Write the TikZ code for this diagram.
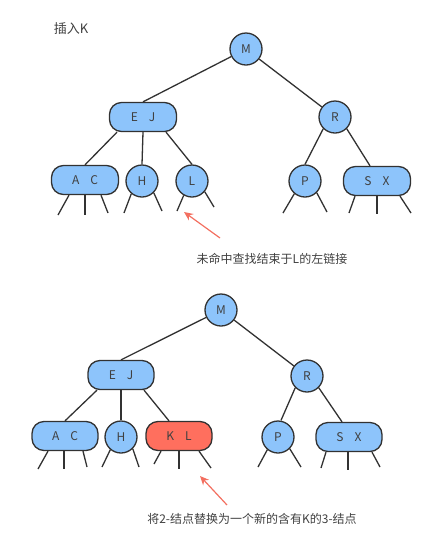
\documentclass[tikz,border=0pt]{standalone}
\usepackage{fontspec}
\setmainfont{Noto Sans CJK SC}
\usepackage{tikz}
\usetikzlibrary{arrows.meta}

\definecolor{keyblue}{RGB}{141,196,251}
\definecolor{keyred}{RGB}{255,111,94}
\definecolor{edgegray}{RGB}{50,50,50}
\definecolor{arrowred}{RGB}{243,111,96}

\begin{document}
\begin{tikzpicture}[x=1pt,y=-1pt,
    two/.style={circle,draw=edgegray,line width=1.3pt,fill=keyblue,minimum size=32pt,inner sep=0pt,
      text=black!75,font=\fontsize{12}{12}\selectfont},
    three/.style={rectangle,rounded corners=12pt,draw=edgegray,line width=1.3pt,fill=keyblue,
      minimum width=67pt,minimum height=29pt,inner sep=0pt,text=black!75,font=\fontsize{12}{12}\selectfont},
    link/.style={draw=edgegray,line width=1.3pt},
    hint/.style={draw=arrowred,line width=1.2pt,-{Stealth[length=9pt,width=8pt]}},
    note/.style={text=black!75,font=\fontsize{12}{12}\selectfont}]
\useasboundingbox (0,0) rectangle (437,547);

% before inserting K
\node[note,font=\fontsize{13}{13}\selectfont] (title) at (71,29) {插入K};
\node[two] (m1) at (246,49) {M};
\node[three] (ej1) at (143,117) {E\hspace{11pt}J};
\node[two] (r1) at (335,117) {R};
\node[three] (ac1) at (85,180) {A\hspace{11pt}C};
\node[two] (h1) at (142,181) {H};
\node[two] (l1) at (192,181) {L};
\node[two] (p1) at (305,181) {P};
\node[three] (sx1) at (377,181) {S\hspace{11pt}X};
\draw[link] (m1) -- (ej1.north);
\draw[link] (m1) -- (r1);
\draw[link] ([xshift=-26pt]ej1.south) -- (ac1.north);
\draw[link] (ej1.south) -- (h1.north);
\draw[link] ([xshift=23pt]ej1.south) -- (l1.north);
\draw[link] (r1.-135) -- (p1.north);
\draw[link] (r1.-45) -- ([xshift=-7pt]sx1.north);
\coordinate (ac1a) at (58,215);
\coordinate (ac1b) at (85,215);
\coordinate (ac1c) at (108,213);
\coordinate (h1a) at (124,213);
\coordinate (h1b) at (162,211);
\coordinate (l1a) at (177,211);
\coordinate (l1b) at (214,207);
\coordinate (p1a) at (283,213);
\coordinate (p1b) at (327,212);
\coordinate (sx1a) at (349,213);
\coordinate (sx1b) at (377,214);
\coordinate (sx1c) at (411,213);
\draw[link] ([xshift=-16pt]ac1.south) -- (ac1a);
\draw[link] (ac1.south) -- (ac1b);
\draw[link] ([xshift=16pt]ac1.south) -- (ac1c);
\draw[link] (h1.-130) -- (h1a);
\draw[link] (h1.-45) -- (h1b);
\draw[link] (l1.-120) -- (l1a);
\draw[link] (l1.-40) -- (l1b);
\draw[link] (p1.-130) -- (p1a);
\draw[link] (p1.-45) -- (p1b);
\draw[link] ([xshift=-22pt]sx1.south) -- (sx1a);
\draw[link] (sx1.south) -- (sx1b);
\draw[link] ([xshift=23pt]sx1.south) -- (sx1c);
\coordinate (tail1) at (220,238);
\coordinate (tip1) at (184,212);
\draw[hint] (tail1) -- (tip1);
\node[note] (miss) at (272,259) {未命中查找结束于L的左链接};

% after inserting K
\node[two] (m2) at (221,310) {M};
\node[three,minimum width=66pt] (ej2) at (121,375) {E\hspace{11pt}J};
\node[two] (r2) at (307,376) {R};
\node[three,minimum width=66pt] (ac2) at (65,436) {A\hspace{11pt}C};
\node[two] (h2) at (121,437) {H};
\node[three,minimum width=66pt,fill=keyred] (kl2) at (179,436) {K\hspace{11pt}L};
\node[two] (p2) at (278,437) {P};
\node[three,minimum width=66pt] (sx2) at (349,437) {S\hspace{11pt}X};
\draw[link] (m2) -- (ej2.north);
\draw[link] (m2) -- (r2);
\draw[link] ([xshift=-24pt]ej2.south) -- (ac2.north);
\draw[link] (ej2.south) -- (h2.north);
\draw[link] ([xshift=23pt]ej2.south) -- ([xshift=-10pt]kl2.north);
\draw[link] (r2.-135) -- ([xshift=3pt]p2.north);
\draw[link] (r2.-45) -- ([xshift=-7pt]sx2.north);
\coordinate (ac2a) at (38,469);
\coordinate (ac2b) at (64,469);
\coordinate (ac2c) at (87,467);
\coordinate (h2a) at (102,467);
\coordinate (h2b) at (139,467);
\coordinate (kl2a) at (154,464);
\coordinate (kl2b) at (179,469);
\coordinate (kl2c) at (211,468);
\coordinate (p2a) at (258,467);
\coordinate (p2b) at (301,467);
\coordinate (sx2a) at (321,468);
\coordinate (sx2b) at (348,470);
\coordinate (sx2c) at (380,467);
\draw[link] ([xshift=-17pt]ac2.south) -- (ac2a);
\draw[link] ([xshift=-1pt]ac2.south) -- (ac2b);
\draw[link] ([xshift=18pt]ac2.south) -- (ac2c);
\draw[link] (h2.-130) -- (h2a);
\draw[link] (h2.-45) -- (h2b);
\draw[link] ([xshift=-18pt]kl2.south) -- (kl2a);
\draw[link] (kl2.south) -- (kl2b);
\draw[link] ([xshift=20pt]kl2.south) -- (kl2c);
\draw[link] (p2.-130) -- (p2a);
\draw[link] (p2.-45) -- (p2b);
\draw[link] ([xshift=-23pt]sx2.south) -- (sx2a);
\draw[link] ([xshift=-1pt]sx2.south) -- (sx2b);
\draw[link] ([xshift=23pt]sx2.south) -- (sx2c);
\coordinate (tail2) at (227,505);
\coordinate (tip2) at (200,476);
\draw[hint] (tail2) -- (tip2);
\node[note] (swap) at (252,519) {将2-结点替换为一个新的含有K的3-结点};
\end{tikzpicture}
\end{document}
